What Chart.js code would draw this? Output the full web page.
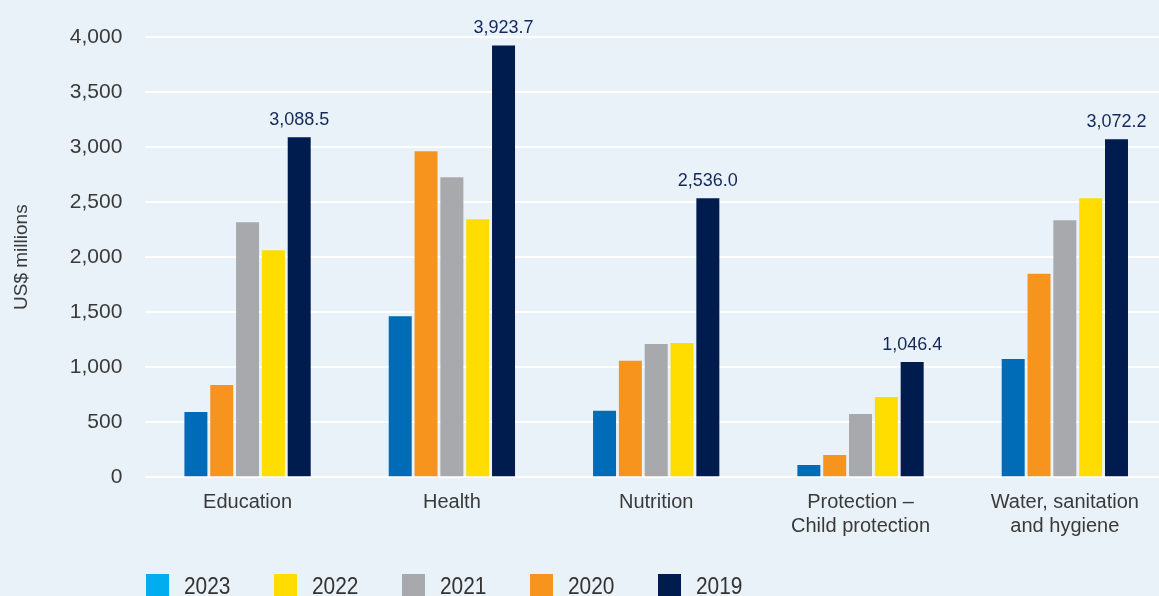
<!DOCTYPE html>
<html>
<head>
<meta charset="utf-8">
<script src="https://cdn.jsdelivr.net/npm/chart.js@4/dist/chart.umd.min.js"></script>
<style>
  html, body { margin: 0; padding: 0; background: #E9F1F9; overflow: hidden; }
  #wrap { position: relative; width: 1167px; height: 596px; }
  #legend { position: absolute; left: 146px; top: 574px; display: flex; font-family: "Liberation Sans", Arial, sans-serif; font-size: 24px; color: #333; }
  #legend .item { display: flex; align-items: flex-start; margin-right: 36.6px; }
  #legend .box { width: 23px; height: 23px; margin-right: 15px; }
  #legend .txt { display: inline-block; line-height: 23px; transform: scaleX(0.87); transform-origin: left center; }
</style>
</head>
<body>
<div id="wrap">
  <canvas id="chart"></canvas>
  <div id="legend"></div>
</div>
<script>
// Chart data
const categories = ['Education', 'Health', 'Nutrition', ['Protection –', 'Child protection'], ['Water, sanitation', 'and hygiene']];
const values2023 = [593, 1464, 604, 112, 1074];
const values2020 = [838, 2962, 1059, 203, 1850];
const values2021 = [2318, 2726, 1210, 575, 2336];
const values2022 = [2063, 2345, 1219, 730, 2536];
const values2019 = [3088.5, 3923.7, 2536.0, 1046.4, 3072.2];
const yTicks = [0, 500, 1000, 1500, 2000, 2500, 3000, 3500, 4000];

// Legend entries (as printed in the original)
const legendYears = ['2023', '2022', '2021', '2020', '2019'];
const legendColors = ['#00AEEF', '#FFDD00', '#A7A9AC', '#F7941E', '#001B4E'];

const font = '"Liberation Sans", Arial, sans-serif';
const textColor = '#3A3A3A';

// Value labels above the 2019 bars
const valueLabels = {
  id: 'valueLabels',
  afterDatasetsDraw(chart) {
    const ctx = chart.ctx;
    const meta = chart.getDatasetMeta(4);
    ctx.save();
    ctx.font = '18px ' + font;
    ctx.fillStyle = '#14285A';
    ctx.textAlign = 'center';
    ctx.textBaseline = 'alphabetic';
    meta.data.forEach((bar, i) => {
      const v = chart.data.datasets[4].data[i];
      const label = v.toLocaleString('en-US', { minimumFractionDigits: 1, maximumFractionDigits: 1 });
      ctx.fillText(label, bar.x, bar.y - 12);
    });
    ctx.restore();
  }
};

document.addEventListener('DOMContentLoaded', () => {
  const ctx = document.getElementById('chart');
  if (!ctx) {
    console.error('Canvas element for chart not found.');
    return;
  }

  const bar = (label, data, color) => ({
    label: label,
    data: data,
    backgroundColor: color,
    borderWidth: 0,
    categoryPercentage: 0.632,
    barPercentage: 0.89
  });

  new Chart(ctx.getContext('2d'), {
    type: 'bar',
    data: {
      labels: categories,
      datasets: [
        bar('2023', values2023, '#006BB6'),
        bar('2020', values2020, '#F7941E'),
        bar('2021', values2021, '#A7A9AC'),
        bar('2022', values2022, '#FFDD00'),
        bar('2019', values2019, '#001B4E')
      ]
    },
    options: {
      responsive: true,
      maintainAspectRatio: false,
      animation: false,
      layout: { padding: { top: 37, left: 0, right: 0, bottom: 0 } },
      plugins: {
        legend: { display: false },
        tooltip: { enabled: false }
      },
      scales: {
        x: {
          grid: { display: false, drawTicks: false },
          border: { display: false },
          ticks: {
            padding: 13,
            color: textColor,
            font: { family: font, size: 20 },
            maxRotation: 0
          },
          afterFit(scale) { scale.height = 118.7; }
        },
        y: {
          min: 0,
          max: 4000,
          afterBuildTicks(scale) { scale.ticks = yTicks.map(v => ({ value: v })); },
          grid: { color: '#FFFFFF', lineWidth: 2, drawTicks: false },
          border: { display: false },
          ticks: {
            padding: 23,
            color: textColor,
            font: { family: font, size: 21 },
            callback: v => v.toLocaleString('en-US')
          },
          title: {
            display: true,
            text: 'US$ millions',
            color: textColor,
            font: { family: font, size: 19 },
            padding: { top: 10 }
          },
          afterFit(scale) { scale.width = 145.4; }
        }
      }
    },
    plugins: [valueLabels]
  });

  // Legend
  const legend = document.getElementById('legend');
  legendYears.forEach((year, i) => {
    const item = document.createElement('div');
    item.className = 'item';
    item.innerHTML = '<span class="box" style="background:' + legendColors[i] + '"></span><span class="txt">' + year + '</span>';
    legend.appendChild(item);
  });
});
</script>
</body>
</html>
